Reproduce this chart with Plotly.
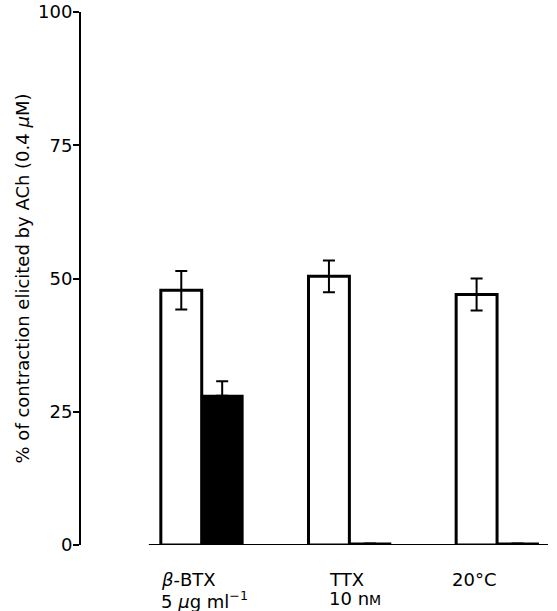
import plotly.graph_objects as go

categories = [0, 1, 2]
group_line1 = ["<i>β</i>-BTX", "TTX", "20°C"]
group_line2 = ["5 <i>μ</i>g ml<sup>−1</sup>", "10 n<span style='font-size:14px'>M</span>", ""]
label_offsets = [-0.29, -0.15, -0.318]
control_values = [47.8, 50.4, 47.0]
control_err = [3.6, 3.0, 3.0]
treated_values = [28.0, 0.3, 0.3]
treated_err = [2.7, 0, 0]
y_ticks = [0, 25, 50, 75, 100]

FONT = "DejaVu Sans, Arial, sans-serif"

fig = go.Figure()
fig.add_trace(go.Bar(
    x=categories, y=control_values,
    marker=dict(color="white", line=dict(color="black", width=3)),
    error_y=dict(type="data", array=control_err, visible=True,
                 color="black", thickness=2, width=6),
    showlegend=False, hoverinfo="skip",
))
fig.add_trace(go.Bar(
    x=categories, y=treated_values,
    marker=dict(color="black", line=dict(color="black", width=2)),
    error_y=dict(type="data", array=treated_err, arrayminus=[0, 0, 0],
                 symmetric=False, visible=True,
                 color="black", thickness=2, width=6),
    showlegend=False, hoverinfo="skip",
))

# baseline (x axis line, detached from the y axis)
fig.add_shape(type="line", xref="x", yref="y", x0=-0.358, x1=2.345, y0=0, y1=0,
              line=dict(color="black", width=2))

for i, (a, b) in enumerate(zip(group_line1, group_line2)):
    xl = categories[i] + label_offsets[i]
    fig.add_annotation(x=xl, y=0, xref="x", yref="paper", xanchor="left",
                       yanchor="top", yshift=-22, text=a, showarrow=False,
                       font=dict(family=FONT, size=18, color="black"))
    if b:
        fig.add_annotation(x=xl, y=0, xref="x", yref="paper", xanchor="left",
                           yanchor="top", yshift=-41, text=b, showarrow=False,
                           font=dict(family=FONT, size=18, color="black"))

fig.update_layout(
    width=557, height=611,
    margin=dict(l=81, r=9, t=12, b=66, autoexpand=False),
    paper_bgcolor="white", plot_bgcolor="white",
    barmode="group", bargap=0.446, bargroupgap=0,
    font=dict(family=FONT, size=18, color="black"),
    xaxis=dict(range=[-0.8176, 2.345], showline=False, showticklabels=False,
               ticks="", showgrid=False, zeroline=False, automargin=False),
    yaxis=dict(range=[0, 100], tickvals=y_ticks, ticks="outside", ticklen=6,
               tickwidth=1.5, tickcolor="black", showline=True, linecolor="black",
               linewidth=2, showgrid=False, zeroline=False, automargin=False,
               ticklabelstandoff=-3,
               tickfont=dict(family=FONT, size=18, color="black"),
               title=dict(text="% of contraction elicited by ACh (0.4 <i>μ</i>M)",
                          font=dict(family=FONT, size=18, color="black"),
                          standoff=4)),
)

fig.write_html("out.html", config={"displayModeBar": False},
               post_script="document.body.style.margin='0';document.body.style.overflow='hidden';")
